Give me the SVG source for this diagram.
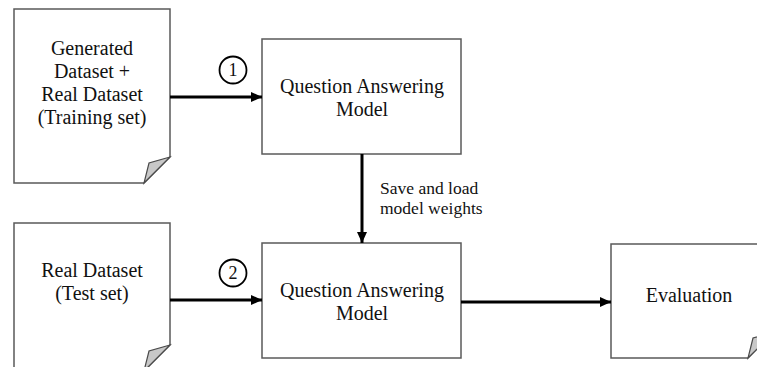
<svg xmlns="http://www.w3.org/2000/svg" width="757" height="367" viewBox="0 0 757 367">
  <style>
    .box { fill: #ffffff; stroke: #5a5a5a; stroke-width: 1.5; }
    .fold { fill: #c8c8c8; stroke: #4a4a4a; stroke-width: 1.2; stroke-linejoin: miter; }
    .lbl { font-family: "Liberation Serif", "Times New Roman", serif; font-size: 20px; fill: #111111; text-anchor: middle; }
    .note { font-family: "Liberation Serif", "Times New Roman", serif; font-size: 17.5px; fill: #111111; }
    .num { font-family: "Liberation Serif", "Times New Roman", serif; font-size: 18px; fill: #111111; text-anchor: middle; }
    .edge { stroke: #000000; stroke-width: 3; fill: none; }
    .badge { fill: #ffffff; stroke: #000000; stroke-width: 1.8; }
  </style>
  <defs>
    <marker id="arrow" markerUnits="userSpaceOnUse" markerWidth="11" markerHeight="11" viewBox="0 0 11 11" refX="11" refY="5.5" orient="auto">
      <path d="M0,0.5 L11,5.5 L0,10.5 Z" fill="#000000"/>
    </marker>
  </defs>

  <rect width="757" height="367" fill="#ffffff"/>

  <!-- training data document -->
  <g id="train-data">
    <path class="box" d="M14,9 H170 V157 L144,183 H14 Z"/>
    <path class="fold" d="M170,157 L149,163 L144,183 Z"/>
    <text class="lbl" x="92" y="55">Generated</text>
    <text class="lbl" x="92" y="78">Dataset +</text>
    <text class="lbl" x="92" y="101">Real Dataset</text>
    <text class="lbl" x="92" y="124">(Training set)</text>
  </g>

  <!-- test data document -->
  <g id="test-data">
    <path class="box" d="M14,223 H170 V345 L144,371 H14 Z"/>
    <path class="fold" d="M170,345 L149,351 L144,371 Z"/>
    <text class="lbl" x="92" y="277">Real Dataset</text>
    <text class="lbl" x="92" y="300">(Test set)</text>
  </g>

  <!-- model, training stage -->
  <g id="qa-train">
    <rect class="box" x="262" y="39" width="199" height="115"/>
    <text class="lbl" x="362" y="93">Question Answering</text>
    <text class="lbl" x="362" y="116">Model</text>
  </g>

  <!-- model, test stage -->
  <g id="qa-test">
    <rect class="box" x="262" y="243" width="199" height="115"/>
    <text class="lbl" x="362" y="297">Question Answering</text>
    <text class="lbl" x="362" y="320">Model</text>
  </g>

  <!-- evaluation document -->
  <g id="evaluation">
    <path class="box" d="M611,244 H774 V332 L748,358 H611 Z"/>
    <path class="fold" d="M774,332 L753,338 L748,358 Z"/>
    <text class="lbl" x="689" y="302">Evaluation</text>
  </g>

  <!-- connectors -->
  <g id="connectors">
    <line class="edge" x1="170" y1="97" x2="262" y2="97" marker-end="url(#arrow)"/>
    <line class="edge" x1="170" y1="300" x2="262" y2="300" marker-end="url(#arrow)"/>
    <line class="edge" x1="362" y1="154" x2="362" y2="243" marker-end="url(#arrow)"/>
    <line class="edge" x1="461" y1="302" x2="611" y2="302" marker-end="url(#arrow)"/>
    <circle class="badge" cx="233" cy="70" r="13.5"/>
    <text class="num" x="233" y="76">1</text>
    <circle class="badge" cx="233" cy="273" r="13.5"/>
    <text class="num" x="233" y="279">2</text>
    <text class="note" x="380" y="194">Save and load</text>
    <text class="note" x="380" y="214">model weights</text>
  </g>
</svg>
